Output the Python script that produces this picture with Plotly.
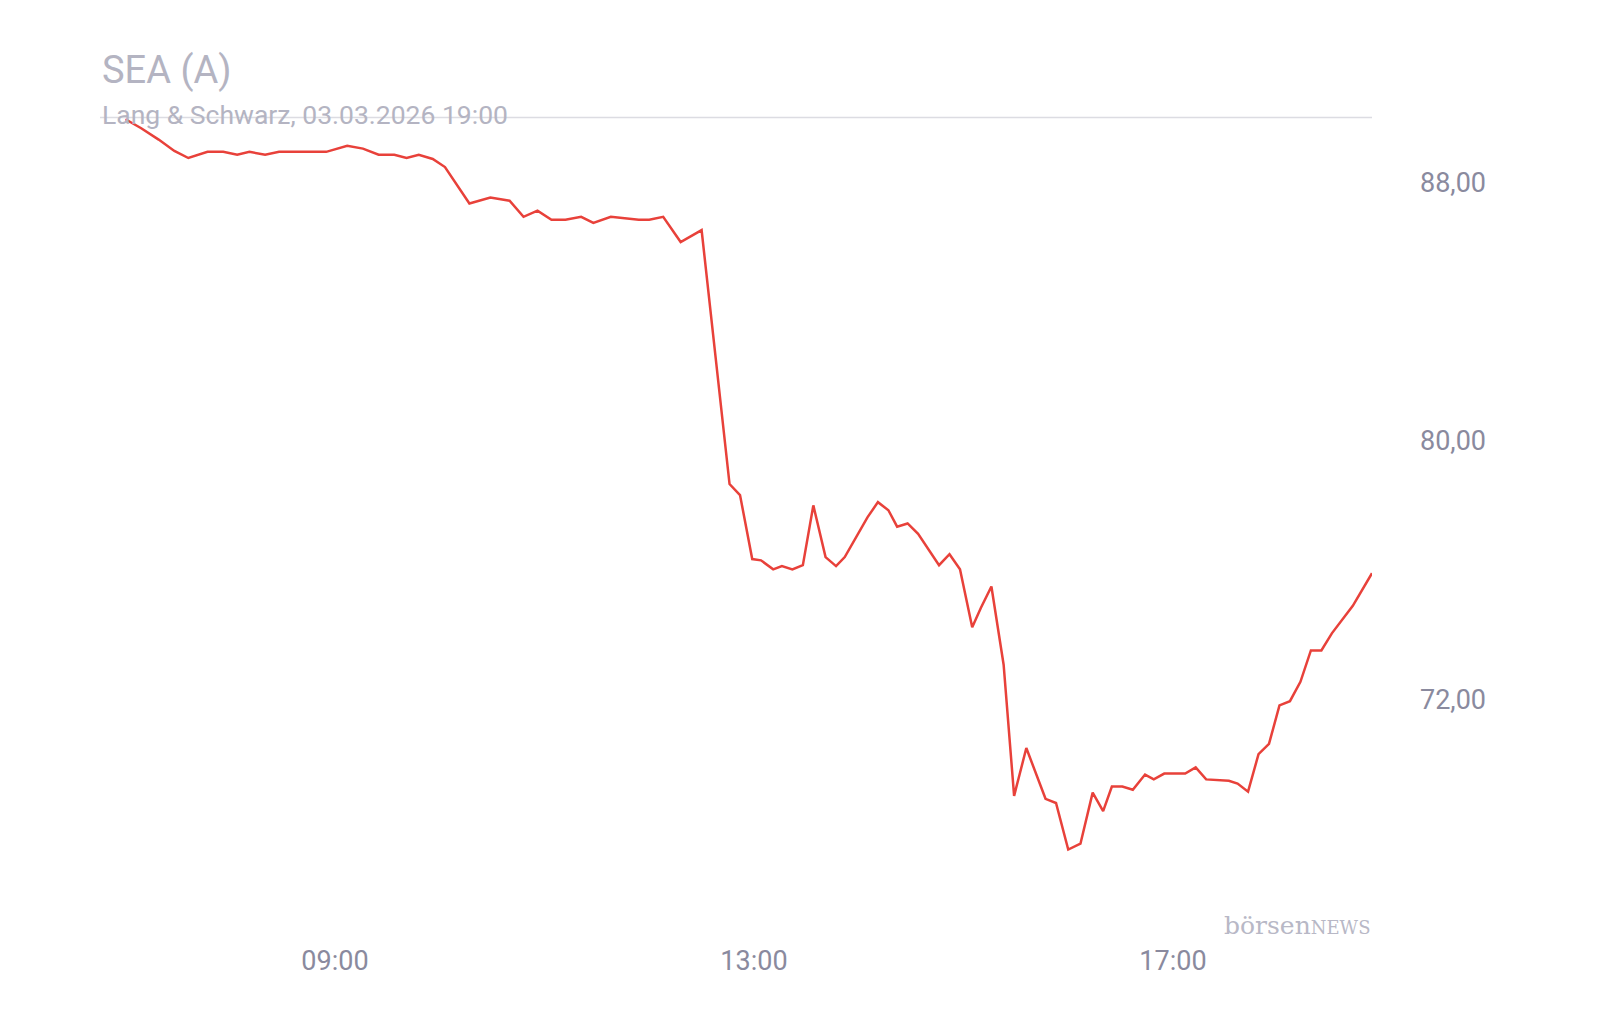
import plotly.graph_objects as go
import pandas as pd

minutes = [0,9,19,28,36,47,56,64,71,80,88,115,127,136,145,154,161,168,176,183,197,209,220,228,236,244,252,261,268,278,294,300,308,318,330,346,352,359,364,371,376,382,388,394,401,407,412,425,431,437,442,448,454,461,466,472,478,485,490,496,503,509,516,527,533,540,547,554,560,565,571,577,584,589,595,607,613,619,632,637,643,649,655,661,667,673,679,685,691,703,714]
prices = [89.95,89.67,89.32,88.97,88.75,88.94,88.94,88.85,88.94,88.85,88.94,88.94,89.13,89.04,88.85,88.85,88.75,88.85,88.72,88.47,87.34,87.53,87.43,86.93,87.12,86.84,86.84,86.93,86.74,86.93,86.84,86.84,86.93,86.15,86.52,78.66,78.32,76.34,76.30,76.02,76.12,76.02,76.15,78.00,76.40,76.12,76.40,77.63,78.10,77.85,77.34,77.44,77.12,76.53,76.15,76.49,76.02,74.23,74.83,75.49,73.07,69.01,70.49,68.92,68.79,67.35,67.53,69.11,68.54,69.30,69.30,69.20,69.67,69.52,69.70,69.70,69.89,69.52,69.48,69.39,69.14,70.30,70.62,71.81,71.94,72.54,73.51,73.51,74.04,74.89,75.90]
y_ticks = [72, 80, 88]
y_tick_labels = ["72,00", "80,00", "88,00"]
x_ticks = ["2026-03-03 09:00", "2026-03-03 13:00", "2026-03-03 17:00"]
x_tick_labels = ["09:00", "13:00", "17:00"]

start = pd.Timestamp("2026-03-03 07:00")
times = [start + pd.Timedelta(minutes=m) for m in minutes]

fig = go.Figure(go.Scatter(x=times, y=prices, mode="lines",
                           line=dict(color="#e8413a", width=2.5), hoverinfo="skip"))
grey = "#8a8a9e"
fig.update_layout(
    width=1600, height=1020, paper_bgcolor="white", plot_bgcolor="white",
    margin=dict(l=92, r=236, t=108, b=109), showlegend=False,
    font=dict(family="Roboto", color=grey),
    xaxis=dict(range=[start - pd.Timedelta(minutes=14.6), times[-1]], showgrid=False, zeroline=False,
               tickvals=x_ticks, ticktext=x_tick_labels, tickfont=dict(size=27, color=grey),
               ticks="", showline=False, ticklabelstandoff=23),
    yaxis=dict(range=[65.2, 90.05], side="right", showgrid=False, zeroline=False,
               tickvals=y_ticks, ticktext=y_tick_labels, tickfont=dict(size=27, color=grey),
               ticks="", showline=False, ticklabelstandoff=47),
    shapes=[dict(type="line", xref="paper", yref="y", x0=0, x1=1, y0=90, y1=90,
                 line=dict(color="#dcdce2", width=1.5), layer="below")],
    annotations=[
        dict(text="SEA (A)", xref="paper", yref="paper", x=0, y=1, yshift=46, xanchor="left",
             yanchor="middle", showarrow=False, font=dict(size=38, color="#b4b4c2")),
        dict(text="Lang & Schwarz, 03.03.2026 19:00", xref="paper", yref="paper", x=0, y=1, yshift=2,
             xanchor="left", yanchor="middle", showarrow=False, font=dict(size=26.5, color="#b4b4c2")),
        dict(text="börsen<span style='font-size:18px'>NEWS</span>", xref="paper", yref="paper", x=1, y=0, yshift=-23,
             xanchor="right", yanchor="bottom", showarrow=False,
             font=dict(size=25, color="#b8b8c6", family="DejaVu Serif")),
    ],
)
fig.write_html("out.html")
